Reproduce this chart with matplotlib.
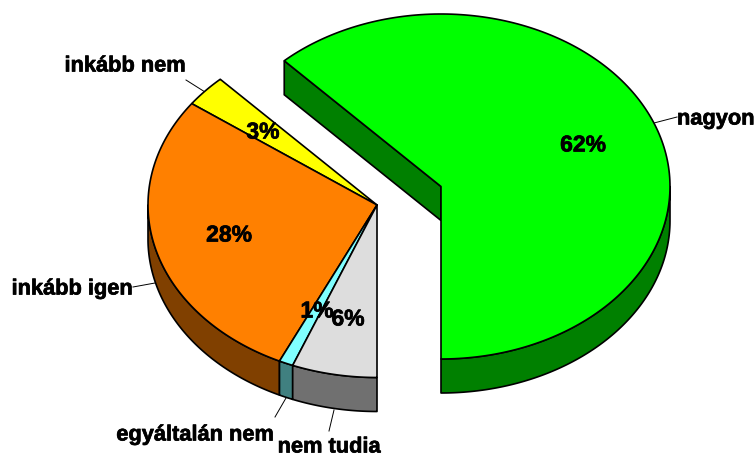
import numpy as np
import matplotlib
matplotlib.use("Agg")
import matplotlib.pyplot as plt
import matplotlib.patheffects as pe

categories = ["nagyon", "inkább nem", "inkább igen", "egyáltalán nem", "nem tudia"]
values = [62, 3, 28, 1, 6]
top_colors = ["#00FF00", "#FFFF00", "#FF8000", "#80FFFF", "#DDDDDD"]
side_colors = ["#008000", "#808000", "#804000", "#408080", "#707070"]

W, H = 755, 457
RX, RY, DEPTH = 229, 172.5, 34
CENTER_MAIN = (377, 205)
CENTER_EXPLODED = (441, 186.5)
START = -90.0

pct_pos = [(583, 145), (263, 132), (229, 235), (317, 311), (348, 319)]
lab_pos = [(677, 119, "left"), (125, 66, "center"), (72, 289, "center"),
           (195, 435, "center"), (329, 447, "center")]
leaders = [((654, 123), (677, 117)), ((186, 80), (205, 92)), ((133, 287), (155, 283)),
           ((275, 417), (286, 398)), ((329, 431), (334, 410))]

plt.rcParams["font.family"] = ["Liberation Sans", "DejaVu Sans"]
fig = plt.figure(figsize=(W / 100, H / 100), dpi=100, facecolor="white")
ax = fig.add_axes([0, 0, 1, 1])
ax.set_xlim(0, W)
ax.set_ylim(H, 0)
ax.axis("off")


def pt(c, deg, dy=0):
    t = np.radians(deg)
    return c[0] + RX * np.cos(t), c[1] - RY * np.sin(t) + dy


def arc(c, a0, a1, dy=0, n=200):
    t = np.radians(np.linspace(a0, a1, n))
    return c[0] + RX * np.cos(t), c[1] - RY * np.sin(t) + dy


edges = np.concatenate([[0], np.cumsum(values)]) / sum(values) * 360 + START
centers = [CENTER_EXPLODED, CENTER_MAIN, CENTER_MAIN, CENTER_MAIN, CENTER_MAIN]
LW = 1.2

# walls: only the front half of each rim is visible
for i, v in enumerate(values):
    a0, a1 = edges[i], edges[i + 1]
    c = centers[i]
    if i == 0:
        lo, hi = -90, 0
    else:
        lo, hi = max(a0, 180), min(a1, 270)
    if hi > lo:
        x, y = arc(c, lo, hi)
        xb, yb = arc(c, hi, lo, DEPTH)
        ax.fill(np.r_[x, xb], np.r_[y, yb], fc=side_colors[i], ec="black", lw=LW, zorder=2,
                joinstyle="round")

# exploded slice: radial wall facing the gap
c = CENTER_EXPLODED
ex, ey = pt(c, edges[1])
ax.fill([ex, c[0], c[0], ex], [ey, c[1], c[1] + DEPTH, ey + DEPTH],
        fc=side_colors[0], ec="black", lw=LW, zorder=2)

# tops
for i, v in enumerate(values):
    x, y = arc(centers[i], edges[i], edges[i + 1])
    ax.fill(np.r_[centers[i][0], x], np.r_[centers[i][1], y], fc=top_colors[i], ec="black",
            lw=LW, zorder=4, joinstyle="round")

for (p, q) in leaders:
    ax.plot([p[0], q[0]], [p[1], q[1]], color="black", lw=0.7, zorder=3)

stroke = [pe.withStroke(linewidth=0.5, foreground="black")]
for v, (x, y) in zip(values, pct_pos):
    ax.text(x, y, f"{v}%", ha="center", va="center", fontsize=16.5, fontweight="bold",
            color="black", zorder=6, path_effects=stroke)
for name, (x, y, ha) in zip(categories, lab_pos):
    ax.text(x, y, name, ha=ha, va="center", fontsize=15.7, fontweight="bold", color="black",
            zorder=6, path_effects=stroke)

fig.savefig("out.png", dpi=100, facecolor="white")
